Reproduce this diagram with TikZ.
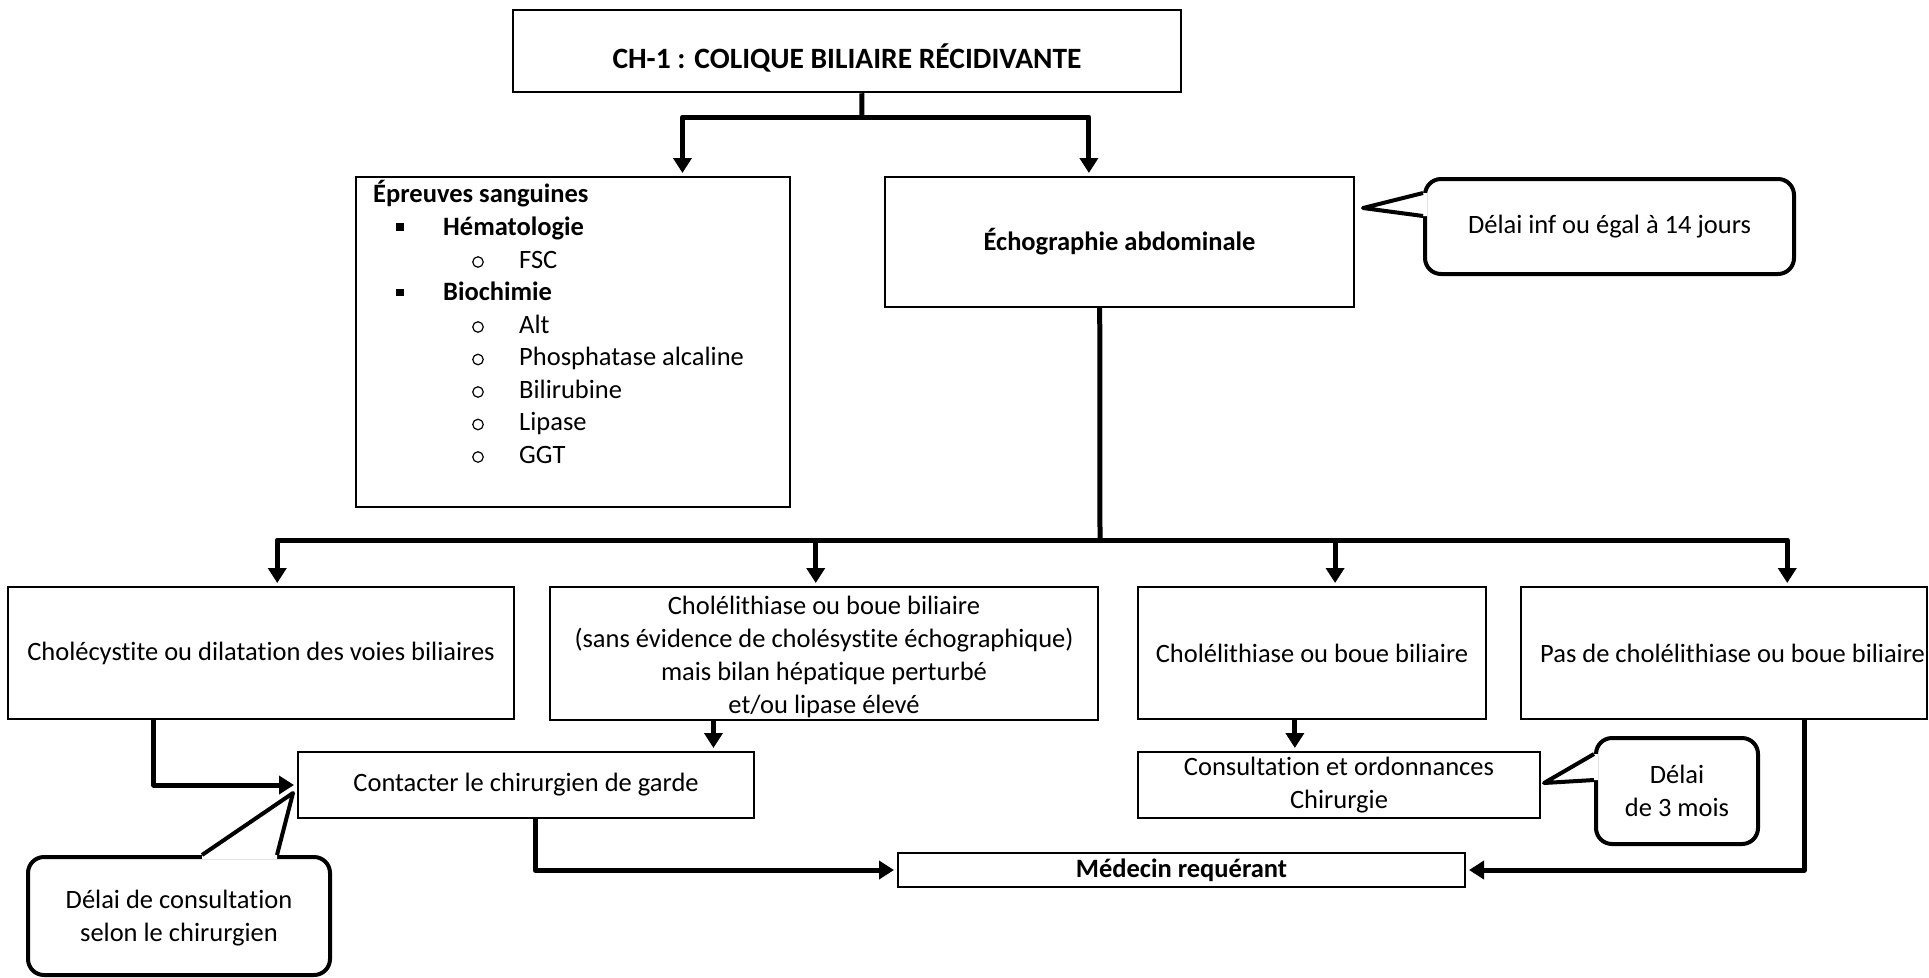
\documentclass[tikz,border=0pt]{standalone}
\usepackage{fontspec}
\setmainfont{Carlito}[Ligatures=NoCommon]
\usetikzlibrary{arrows.meta,calc}
\newcommand\fsn{\fontsize{26.5}{33}\selectfont}
\newcommand\fst{\fontsize{29.5}{35}\selectfont}
\begin{document}
\begin{tikzpicture}[x=1pt,y=-1pt,
  box/.style={draw,line width=2pt,rectangle,inner sep=0pt,align=center,font=\fsn},
  conn/.style={line width=5pt,line join=round},
  arr/.style={conn,-{Triangle[width=18pt,length=15pt]},shorten >=3pt},
  callout/.style={draw,line width=4pt,rounded corners=16pt,align=center,inner sep=0pt,font=\fsn},
  txt/.style={inner sep=0pt,font=\fsn},
  sqb/.style={fill,inner sep=0pt,minimum size=7.5pt},
  cirb/.style={draw,circle,line width=1.2pt,inner sep=0pt,minimum size=10.5pt},
  ptr/.style={line width=4pt,line join=round}]
\useasboundingbox (0,0) rectangle (1929,977);

% ---------- top ----------
\node[box,line width=2.5pt,minimum width=668pt,minimum height=82pt,font=\fst\bfseries] (title) at (847,51)
  {\raisebox{-7pt}[\height][\depth]{CH-1 : COLIQUE BILIAIRE RÉCIDIVANTE}};

\node[box,minimum width=434pt,minimum height=330pt] (epr) at (573,342) {};
\node[txt,anchor=base west,font=\fsn\bfseries] (l0) at (373,202) {Épreuves sanguines};
\node[sqb] (sq1) at (400,227) {};
\node[txt,anchor=base west,font=\fsn\bfseries] (l1) at (443,235) {Hématologie};
\node[cirb] (o1) at (478,262) {};
\node[txt,anchor=base west] (l2) at (519,268) {FSC};
\node[sqb] (sq2) at (400,292.5) {};
\node[txt,anchor=base west,font=\fsn\bfseries] (l3) at (443,300.5) {Biochimie};
\node[cirb] (o2) at (478,327) {};
\node[txt,anchor=base west] (l4) at (519,333) {Alt};
\node[cirb] (o3) at (478,359.5) {};
\node[txt,anchor=base west] (l5) at (519,365.5) {Phosphatase alcaline};
\node[cirb] (o4) at (478,392) {};
\node[txt,anchor=base west] (l6) at (519,398) {Bilirubine};
\node[cirb] (o5) at (478,424.5) {};
\node[txt,anchor=base west] (l7) at (519,430.5) {Lipase};
\node[cirb] (o6) at (478,457) {};
\node[txt,anchor=base west] (l8) at (519,463) {GGT};

\node[box,minimum width=469pt,minimum height=130pt,font=\fsn\bfseries] (echo) at (1119.5,242) {Échographie abdominale};

\node[callout,minimum width=369pt,minimum height=95pt] (c14) at (1609.5,226.5) {Délai inf ou égal à 14 jours};
\coordinate (t14) at (1363,208);
\fill[white] ($(c14.north west)+(0,16)$) -- (t14) -- ($(c14.north west)+(0,39)$) -- ($(c14.north west)+(4,39)$) -- ($(c14.north west)+(4,16)$) -- cycle;
\draw[ptr] ($(c14.north west)+(0,16)$) -- (t14) -- ($(c14.north west)+(0,39)$);

% ---------- row of results ----------
\node[box,minimum width=506pt,minimum height=132pt] (b1) at (261,653) {Cholécystite ou dilatation des voies biliaires};
\node[box,minimum width=548pt,minimum height=133pt] (b2) at (824,653.5)
  {\raisebox{-4pt}[\height][\depth]{\begin{tabular}{@{}c@{}}Cholélithiase ou boue biliaire\\(sans évidence de cholésystite échographique)\\mais bilan hépatique perturbé\\et/ou lipase élevé\end{tabular}}};
\node[box,minimum width=348pt,minimum height=132pt] (b3) at (1312,653) {Cholélithiase ou boue biliaire};
\node[box,minimum width=406pt,minimum height=132pt,inner xsep=2pt] (b4) at (1724,653) {\makebox[402pt][r]{Pas de cholélithiase ou boue biliaire}};

% ---------- lower row ----------
\node[box,minimum width=456pt,minimum height=66pt] (con) at (526,785) {Contacter le chirurgien de garde};
\node[box,minimum width=402pt,minimum height=66pt] (cons) at (1339,785) {Consultation et ordonnances\\Chirurgie};
\node[box,minimum width=567pt,minimum height=34pt,font=\fsn\bfseries] (med) at (1181.5,870) {Médecin requérant};

\node[callout,minimum width=162pt,minimum height=106pt] (c3m) at (1677,791) {Délai\\de 3 mois};
\coordinate (t3m) at (1544,783);
\fill[white] ($(c3m.north west)+(0,18)$) -- (t3m) -- ($(c3m.north west)+(0,44)$) -- ($(c3m.north west)+(4,44)$) -- ($(c3m.north west)+(4,18)$) -- cycle;
\draw[ptr] ($(c3m.north west)+(0,18)$) -- (t3m) -- ($(c3m.north west)+(0,44)$);

\node[callout,minimum width=302pt,minimum height=118pt] (cch) at (179,916) {\raisebox{-2pt}[\height][\depth]{\begin{tabular}{@{}c@{}}Délai de consultation\\selon le chirurgien\end{tabular}}};
\coordinate (tch) at (293,793);
\fill[white] ($(cch.north west)+(176,0)$) -- (tch) -- ($(cch.north west)+(251,0)$) -- ($(cch.north west)+(251,4)$) -- ($(cch.north west)+(176,4)$) -- cycle;
\draw[ptr] ($(cch.north west)+(176,0)$) -- (tch) -- ($(cch.north west)+(251,0)$);

% ---------- connectors ----------
\coordinate (tj) at (862,117);
\draw[conn] ($(title.south west)!0.522!(title.south east)$) -- (tj);
\draw[arr] (tj) -| ($(epr.north west)!0.751!(epr.north east)$);
\draw[arr] (tj) -| ($(echo.north west)!0.435!(echo.north east)$);

\coordinate (ej) at (1100,540);
\draw[conn] ($(echo.south west)!0.458!(echo.south east)$) -- (ej);
\draw[arr] (ej) -| ($(b1.north west)!0.532!(b1.north east)$);
\draw[arr] (ej) -| ($(b2.north west)!0.485!(b2.north east)$);
\draw[arr] (ej) -| ($(b3.north west)!0.566!(b3.north east)$);
\draw[arr] (ej) -| ($(b4.north west)!0.655!(b4.north east)$);

\draw[arr] ($(b1.south west)!0.289!(b1.south east)$) |- (con.west);
\coordinate (b2s) at ($(b2.south west)!0.299!(b2.south east)$);
\draw[arr] (b2s) -- (b2s |- con.north);
\coordinate (b3s) at ($(b3.south west)!0.451!(b3.south east)$);
\draw[arr] (b3s) -- (b3s |- cons.north);
\draw[arr] ($(con.south west)!0.52!(con.south east)$) |- (med.west);
\draw[arr] ($(b4.south west)!0.697!(b4.south east)$) |- (med.east);
\end{tikzpicture}
\end{document}
